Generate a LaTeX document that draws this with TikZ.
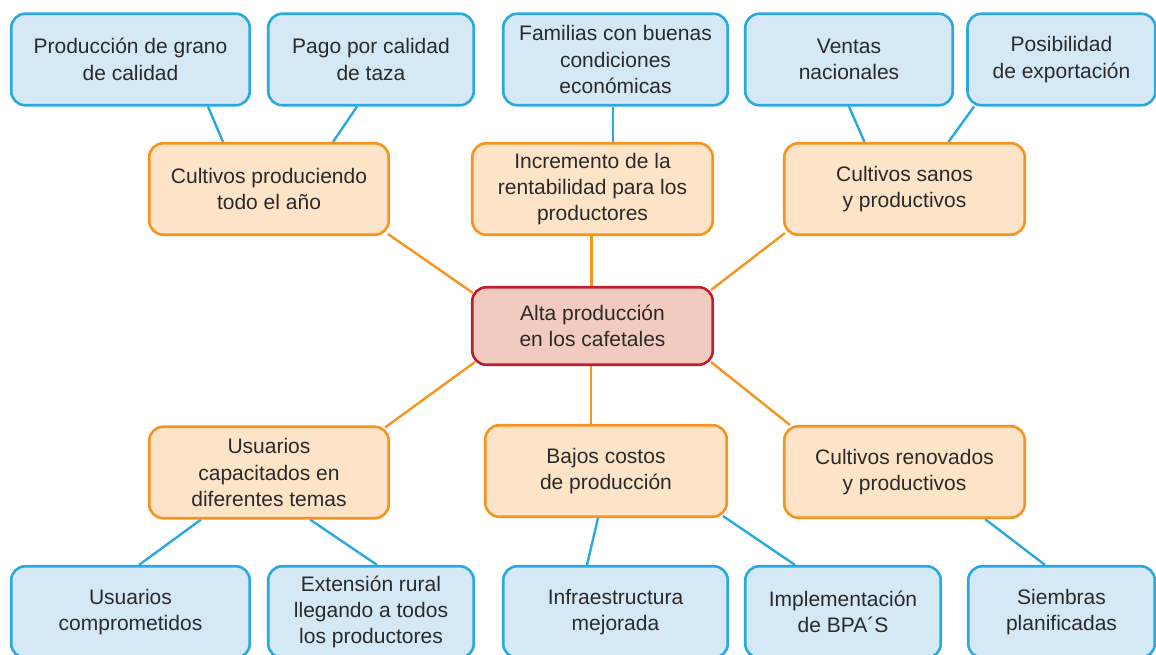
\documentclass[tikz,border=0pt]{standalone}
\usepackage{fontspec}
\setmainfont{Liberation Sans}
\usetikzlibrary{backgrounds}
\definecolor{bluedraw}{HTML}{29A9E0}
\definecolor{bluefill}{HTML}{D5E8F6}
\definecolor{orangedraw}{HTML}{F7941E}
\definecolor{orangefill}{HTML}{FDE3C7}
\definecolor{reddraw}{HTML}{BE1E2D}
\definecolor{redfill}{HTML}{F2CBC0}
\definecolor{txt}{HTML}{2B2A29}
\begin{document}
\begin{tikzpicture}[x=1pt,y=1pt,
  basebox/.style={rectangle, rounded corners=14pt, line width=2.6pt, inner sep=0pt,
    align=center, text=txt, font=\fontsize{21}{26.3}\selectfont, minimum height=91.5pt},
  bluebox/.style={basebox, draw=bluedraw, fill=bluefill},
  orangebox/.style={basebox, draw=orangedraw, fill=orangefill},
  centerbox/.style={basebox, draw=reddraw, fill=redfill, minimum height=77.5pt},
  blueline/.style={draw=bluedraw, line width=2.4pt},
  orangeline/.style={draw=orangedraw, line width=2.4pt}]
\useasboundingbox (0,0) rectangle (1156,654);
\clip (0,0) rectangle (1156,654);
% top blue
\node[bluebox, minimum width=238.5pt] (p1) at (130.5,594.5) {Producción de grano\\de calidad};
\node[bluebox, minimum width=205.5pt] (p2) at (371,594.5) {Pago por calidad\\de taza};
\node[bluebox, minimum width=224.5pt] (p3) at (615.5,594.5) {Familias con buenas\\condiciones\\económicas};
\node[bluebox, minimum width=207.5pt] (p4) at (849,594.5) {Ventas\\nacionales};
\node[bluebox, minimum width=188pt] (p5) at (1061.5,594.5) {Posibilidad\\de exportación};
% middle orange
\node[orangebox, minimum width=239.5pt] (m1) at (269,465) {Cultivos produciendo\\todo el año};
\node[orangebox, minimum width=240.5pt] (m2) at (592.5,465) {Incremento de la\\rentabilidad para los\\productores};
\node[orangebox, minimum width=240.5pt] (m3) at (904.5,465) {Cultivos sanos\\y productivos};
% center
\node[centerbox, minimum width=240.5pt] (c) at (592.5,328) {Alta producción\\en los cafetales};
% bottom orange
\node[orangebox, minimum width=239.5pt] (b1) at (269,181.5) {Usuarios\\capacitados en\\diferentes temas};
\node[orangebox, minimum width=241.5pt] (b2) at (606,183) {Bajos costos\\de producción};
\node[orangebox, minimum width=240.5pt] (b3) at (904.5,182) {Cultivos renovados\\y productivos};
% bottom blue
\node[bluebox, minimum width=238.5pt] (q1) at (130.5,42) {Usuarios\\comprometidos};
\node[bluebox, minimum width=205.5pt] (q2) at (371,42) {Extensión rural\\llegando a todos\\los productores};
\node[bluebox, minimum width=224.5pt] (q3) at (615.5,42) {Infraestructura\\mejorada};
\node[bluebox, minimum width=195.5pt] (q4) at (843,42) {Implementación\\de BPA´S};
\node[bluebox, minimum width=186.5pt] (q5) at (1061.5,42) {Siembras\\planificadas};
\begin{pgfonlayer}{background}
\draw[blueline] ([xshift=77.5pt]p1.south) -- ([xshift=-46pt]m1.north);
\draw[blueline] ([xshift=-14pt]p2.south) -- ([xshift=64pt]m1.north);
\draw[blueline] ([xshift=-2.5pt]p3.south) -- ([xshift=20.5pt]m2.north);
\draw[blueline] (p4.south) -- ([xshift=-40pt]m3.north);
\draw[blueline] ([xshift=-87.5pt]p5.south) -- ([xshift=44pt]m3.north);
\draw[orangeline] ([shift={(-2pt,2pt)}]m1.south east) -- ([shift={(2pt,-7pt)}]c.north west);
\draw[orangeline] ([xshift=-1pt]m2.south) -- ([xshift=-1pt]c.north);
\draw[orangeline] ([shift={(2pt,3pt)}]m3.south west) -- ([shift={(-3pt,-4pt)}]c.north east);
\draw[orangeline] ([shift={(4pt,4pt)}]c.south west) -- ([shift={(-5pt,-2pt)}]b1.north east);
\draw[orangeline] ([xshift=-1.5pt]c.south) -- ([xshift=-15pt]b2.north);
\draw[orangeline] ([shift={(-3pt,4pt)}]c.south east) -- ([shift={(7pt,0pt)}]b3.north west);
\draw[blueline] ([xshift=-68pt]b1.south) -- ([xshift=8.5pt]q1.north);
\draw[blueline] ([xshift=41pt]b1.south) -- ([xshift=6pt]q2.north);
\draw[blueline] ([xshift=-8pt]b2.south) -- ([xshift=-28.5pt]q3.north);
\draw[blueline] ([shift={(-5pt,2pt)}]b2.south east) -- ([xshift=-48pt]q4.north);
\draw[blueline] ([xshift=80.5pt]b3.south) -- ([xshift=-16.5pt]q5.north);
\end{pgfonlayer}
\end{tikzpicture}
\end{document}
